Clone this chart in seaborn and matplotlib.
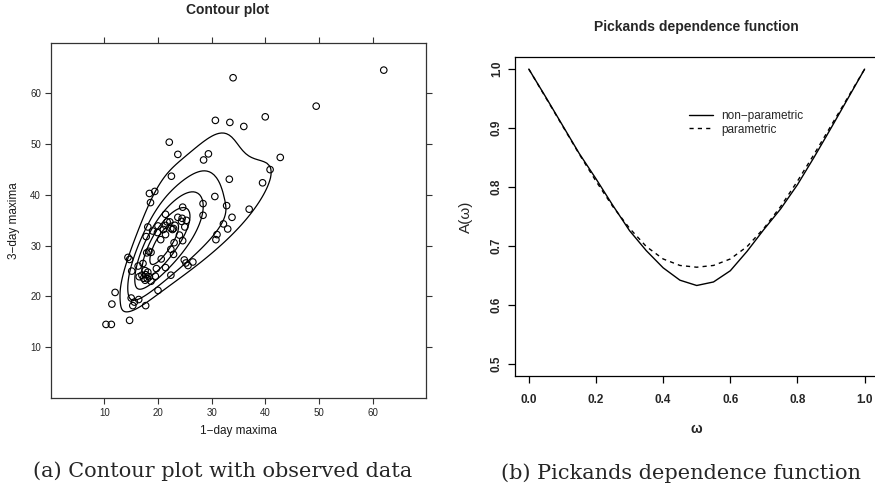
import numpy as np
import pandas as pd
import matplotlib
matplotlib.use("Agg")
import matplotlib.pyplot as plt
from matplotlib.lines import Line2D
import seaborn as sns

# observed annual maxima
day1 = [62.1, 34.0, 49.5, 40.0, 30.7, 33.4, 36.0, 22.1, 23.7, 29.4, 28.5, 42.8,
        40.9, 22.5, 33.3, 39.5, 18.4, 19.4, 18.6, 28.4, 30.6, 32.8, 37.0, 24.6,
        28.4, 33.8, 32.2, 33.0, 31.0, 30.8, 21.4, 23.7, 24.5, 24.4, 25.3, 25.0,
        24.0, 24.6, 21.7, 22.2, 22.4, 22.7, 22.9, 21.4, 21.0, 20.0, 19.9, 21.4,
        20.5, 19.0, 18.1, 17.8, 23.0, 22.4, 22.9, 17.9, 18.7, 18.3, 14.4, 14.7,
        20.6, 24.9, 25.2, 25.6, 26.5, 17.2, 16.3, 15.1, 17.6, 18.1, 19.7, 21.4,
        19.5, 22.4, 16.5, 17.0, 17.3, 17.7, 18.0, 18.4, 18.7, 17.6, 20.0, 12.0,
        15.0, 15.6, 16.4, 15.3, 17.7, 11.4, 14.7, 10.3, 11.3]
day3 = [64.6, 63.1, 57.5, 55.4, 54.7, 54.3, 53.5, 50.4, 48.0, 48.1, 46.9, 47.4,
        45.0, 43.7, 43.1, 42.4, 40.3, 40.7, 38.5, 38.3, 39.7, 37.9, 37.2, 37.6,
        36.0, 35.6, 34.3, 33.3, 32.2, 31.2, 36.2, 35.6, 35.4, 34.8, 35.0, 33.7,
        32.1, 31.0, 34.7, 34.7, 33.4, 33.2, 33.4, 34.0, 33.2, 33.9, 32.6, 32.2,
        31.2, 32.9, 33.7, 31.8, 30.6, 29.3, 28.3, 28.6, 28.7, 28.9, 27.7, 27.3,
        27.4, 27.2, 26.6, 26.1, 26.8, 26.5, 26.0, 25.0, 25.1, 24.8, 25.5, 25.7,
        24.0, 24.2, 23.9, 24.2, 23.6, 24.3, 23.5, 23.9, 23.0, 23.2, 21.2, 20.8,
        19.7, 18.9, 19.4, 18.2, 18.2, 18.5, 15.3, 14.5, 14.5]

# Pickands dependence function estimates
omega = [0.00, 0.05, 0.10, 0.15, 0.20, 0.25, 0.30, 0.35, 0.40, 0.45, 0.50,
         0.55, 0.60, 0.65, 0.70, 0.75, 0.80, 0.85, 0.90, 0.95, 1.00]
a_nonpar = [1.000, 0.953, 0.905, 0.857, 0.814, 0.769, 0.726, 0.692, 0.663,
            0.642, 0.633, 0.639, 0.658, 0.691, 0.728, 0.763, 0.804, 0.851,
            0.900, 0.950, 1.000]
a_par = [1.000, 0.952, 0.904, 0.856, 0.810, 0.767, 0.730, 0.699, 0.678, 0.667,
         0.664, 0.667, 0.678, 0.699, 0.730, 0.767, 0.810, 0.856, 0.904, 0.952,
         1.000]

sns.set_theme(style="white")
plt.rcParams["font.family"] = ["Liberation Sans", "DejaVu Sans"]
plt.rcParams["axes.linewidth"] = 0.9

obs = pd.DataFrame({"d1": day1, "d3": day3})
pick = pd.DataFrame({"w": omega, "np": a_nonpar, "p": a_par})

fig = plt.figure(figsize=(8.75, 4.91), dpi=100)

# ---- left: contour plot with observed data
ax1 = fig.add_axes([0.058, 0.1894, 0.429, 0.7236])
# density estimated on log scale (skewed maxima), shown on linear axes
sns.kdeplot(data=obs, x="d1", y="d3", levels=[0.3, 0.5, 0.68, 0.82, 0.93],
            bw_adjust=1.25, log_scale=True, color="black", linewidths=0.9,
            ax=ax1)
ax1.set_xscale("linear")
ax1.set_yscale("linear")
sns.scatterplot(data=obs, x="d1", y="d3", marker="o", s=22,
                facecolor="none", edgecolor="black", linewidth=0.8, ax=ax1)
ax1.set_xlim(0, 70)
ax1.set_ylim(0, 70)
ax1.set_xticks([10, 20, 30, 40, 50, 60])
ax1.set_yticks([10, 20, 30, 40, 50, 60])
ax1.set_xticklabels([str(t) for t in [10, 20, 30, 40, 50, 60]])
ax1.set_yticklabels([str(t) for t in [10, 20, 30, 40, 50, 60]])
ax1.minorticks_off()
ax1.tick_params(direction="out", length=4, width=0.8, top=True, right=True,
                labeltop=False, labelright=False, labelsize=7, pad=3,
                color="0.2", labelcolor="0.15", bottom=True, left=True)
for sp in ax1.spines.values():
    sp.set_color("0.2")
ax1.set_xlabel("1\u2212day maxima", fontsize=8.5, labelpad=5, color="0.1")
ax1.set_ylabel("3\u2212day maxima", fontsize=8.5, labelpad=7, color="0.1")
fig.text(228 / 875, 1 - 10 / 491, "Contour plot", ha="center", va="center",
         fontsize=10, fontweight="bold")

# ---- right: Pickands dependence function
ax2 = fig.add_axes([0.589, 0.2348, 0.4145, 0.6485])
sns.lineplot(data=pick, x="w", y="np", color="black", linewidth=1.0, ax=ax2)
sns.lineplot(data=pick, x="w", y="p", color="black", linewidth=1.0,
             dashes=False, ax=ax2)
ax2.lines[1].set_linestyle((0, (3, 3)))
ax2.set_xlim(-0.04, 1.04)
ax2.set_ylim(0.48, 1.02)
ax2.set_xticks([0.0, 0.2, 0.4, 0.6, 0.8, 1.0])
ax2.set_yticks([0.5, 0.6, 0.7, 0.8, 0.9, 1.0])
ax2.set_xticklabels([f"{t:.1f}" for t in ax2.get_xticks()], fontweight="bold")
ax2.set_yticklabels([f"{t:.1f}" for t in ax2.get_yticks()], fontweight="bold",
                    rotation=90, va="center")
ax2.tick_params(axis="x", direction="out", length=5, width=0.9, bottom=True,
                labelsize=8.5, pad=8, color="black")
ax2.tick_params(axis="y", direction="out", length=5, width=0.9, left=True,
                labelsize=8.5, pad=4, color="black")
for sp in ax2.spines.values():
    sp.set_color("black")
ax2.set_xlabel("\u03c9", fontsize=10, fontweight="bold", labelpad=12)
ax2.set_ylabel("A(\u03c9)", fontsize=11, labelpad=13)
handles = [Line2D([], [], color="black", lw=1.0),
           Line2D([], [], color="black", lw=1.0, linestyle=(0, (3, 3)))]
ax2.legend(handles, ["non\u2212parametric", "parametric"], frameon=False,
           fontsize=8.5, loc="upper left", bbox_to_anchor=(0.466, 0.85),
           handlelength=2.0, handletextpad=0.75, labelspacing=0.15,
           borderaxespad=0.0)
fig.text(696.7 / 875, 1 - 27 / 491, "Pickands dependence function",
         ha="center", va="center", fontsize=10, fontweight="bold")

# ---- captions
fig.text(223 / 875, 1 - 471 / 491, "(a) Contour plot with observed data",
         ha="center", va="center", fontsize=15, family="DejaVu Serif")
fig.text(681 / 875, 1 - 473 / 491, "(b) Pickands dependence function",
         ha="center", va="center", fontsize=15, family="DejaVu Serif")

fig.savefig("out.png", dpi=100)
